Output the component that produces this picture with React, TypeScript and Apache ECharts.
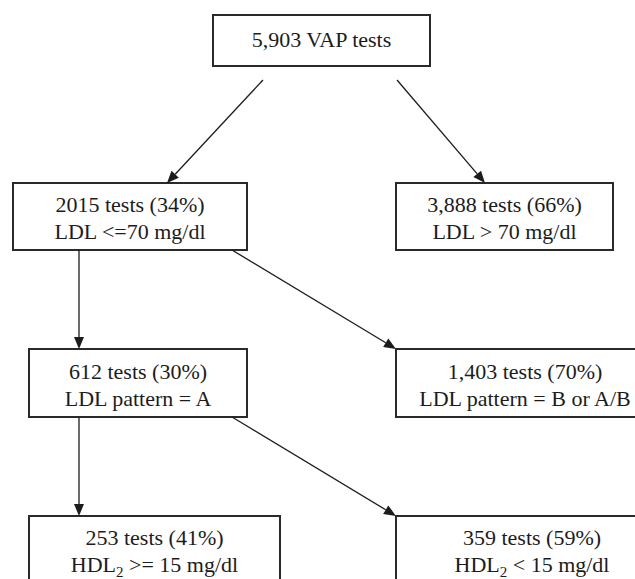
import React, { useEffect, useRef } from "react";
import * as echarts from "echarts";

// ---- data ----
const nodeCounts = ["5,903", "2015", "3,888", "612", "1,403", "253", "359"];
const nodePercents = ["", "34%", "66%", "30%", "70%", "41%", "59%"];
const nodeCriteria = [
  "",
  "LDL <=70 mg/dl",
  "LDL > 70 mg/dl",
  "LDL pattern = A",
  "LDL pattern = B or A/B",
  "HDL{sub|2} >= 15 mg/dl",
  "HDL{sub|2} < 15 mg/dl",
];
// parent -> child links (node indices)
const links: [number, number][] = [
  [0, 1],
  [0, 2],
  [1, 3],
  [1, 4],
  [3, 5],
  [3, 6],
];

// ---- layout (positions / sizes only) ----
const boxes: [number, number, number, number][] = [
  [213, 15, 217, 51],
  [13, 183, 234, 67],
  [396, 183, 217, 67],
  [29, 349, 218, 68],
  [396, 349, 258, 68],
  [29, 516, 251, 66],
  [396, 516, 272, 66],
];
const linkPaths: [number, number, number, number][] = [
  [263, 80, 167, 183],
  [397, 80, 485, 183],
  [79, 250, 79, 349],
  [232, 250, 396, 349],
  [79, 417, 79, 516],
  [232, 417, 396, 516],
];

const FONT = "'Liberation Serif', 'Times New Roman', serif";
const INK = "#1c1c1c";

function labelFor(i: number): string {
  if (i === 0) return `${nodeCounts[i]} VAP tests`;
  return `${nodeCounts[i]} tests (${nodePercents[i]})\n${nodeCriteria[i]}`;
}

function buildGraphics() {
  const els: any[] = [];
  boxes.forEach((b, i) => {
    const [x, y, w, h] = b;
    els.push({
      type: "rect",
      shape: { x, y, width: w, height: h },
      style: { fill: "#fff", stroke: "#2a2a2a", lineWidth: 2 },
    });
    const single = i === 0;
    const cy = single ? y + h / 2 - 1 : y + h / 2 + 1.5;
    els.push({
      type: "text",
      x: x + w / 2,
      y: cy,
      style: {
        text: labelFor(i),
        fontFamily: FONT,
        fontSize: 22,
        fill: INK,
        align: "center",
        verticalAlign: "middle",
        lineHeight: 27,
        rich: {
          sub: {
            fontSize: 15,
            fontFamily: FONT,
            fill: INK,
            padding: [16, 0, 0, 0],
          },
        },
      },
    });
  });
  linkPaths.forEach((p) => {
    const [x1, y1, x2, y2] = p;
    const dx = x2 - x1;
    const dy = y2 - y1;
    const len = Math.sqrt(dx * dx + dy * dy);
    const ux = dx / len;
    const uy = dy / len;
    const headL = 12;
    const headW = 5;
    const bx = x2 - ux * headL;
    const by = y2 - uy * headL;
    els.push({
      type: "line",
      shape: { x1, y1, x2: bx, y2: by },
      style: { stroke: INK, lineWidth: 1.3 },
    });
    els.push({
      type: "polygon",
      shape: {
        points: [
          [x2, y2],
          [bx - uy * headW, by + ux * headW],
          [bx + uy * headW, by - ux * headW],
        ],
      },
      style: { fill: INK },
    });
  });
  return els;
}

export default function App() {
  const ref = useRef<HTMLDivElement>(null);
  useEffect(() => {
    document.body.style.margin = "0";
    const chart = echarts.init(ref.current!, null, { renderer: "svg" });
    chart.setOption({
      animation: false,
      backgroundColor: "#ffffff",
      graphic: { elements: buildGraphics() },
    });
    return () => chart.dispose();
  }, []);
  return (
    <div
      ref={ref}
      style={{ position: "absolute", left: 0, top: 0, width: 635, height: 579, overflow: "hidden" }}
    />
  );
}
